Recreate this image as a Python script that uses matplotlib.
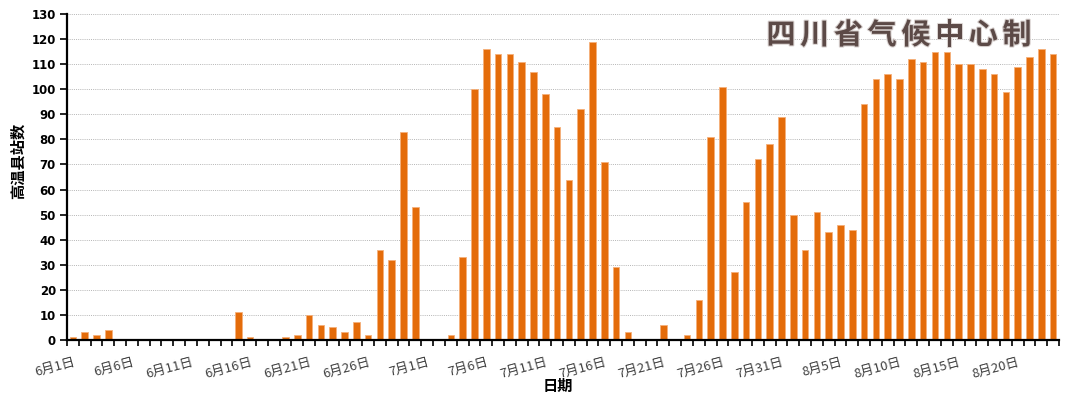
import matplotlib
matplotlib.use("Agg")
import matplotlib.pyplot as plt
import matplotlib.patheffects as pe
import numpy as np

plt.rcParams['font.family'] = ['Noto Sans CJK SC', 'DejaVu Sans']

june = [1, 3, 2, 4, 0, 0, 0, 0, 0, 0, 0, 0, 0, 0, 11, 1, 0, 0, 1, 2,
        10, 6, 5, 3, 7, 2, 36, 32, 83, 53]
july = [0, 0, 2, 33, 100, 116, 114, 114, 111, 107, 98, 85, 64, 92, 119, 71,
        29, 3, 0, 0, 6, 0, 2, 16, 81, 101, 27, 55, 72, 78, 89]
august = [50, 36, 51, 43, 46, 44, 94, 104, 106, 104, 112, 111, 115, 115,
          110, 110, 108, 106, 99, 109, 113, 116, 114]

values = june + july + august
dates = ([f"6月{d}日" for d in range(1, 31)] +
         [f"7月{d}日" for d in range(1, 32)] +
         [f"8月{d}日" for d in range(1, 24)])

ylabel = "高温县站数"
xlabel = "日期"
watermark = "四川省气候中心制"

fig = plt.figure(figsize=(10.8, 4.07), dpi=100)
ax = fig.add_axes([67 / 1080, 67 / 407, (1059 - 67) / 1080, (340 - 14) / 407])

x = np.arange(len(values))
ax.bar(x, values, width=0.56, color='#E46C0A', edgecolor='#F5B07A',
       linewidth=0.6, zorder=3)

ax.set_xlim(-0.5, len(values) - 0.5)
ax.set_ylim(0, 130)
ax.set_yticks(np.arange(0, 131, 10))
ax.yaxis.grid(True, color='#B5B5B5', linestyle=(0, (1, 1.2)), linewidth=0.7, zorder=0)
ax.set_axisbelow(True)

label_idx = list(range(0, len(values), 5))
ax.set_xticks(label_idx)
ax.set_xticklabels([dates[i] for i in label_idx], rotation=15, ha='right',
                   rotation_mode='anchor', fontsize=9.5, color='#404040')
ax.set_xticks(np.arange(-0.5, len(values), 1), minor=True)
ax.tick_params(axis='x', which='major', length=0, pad=11)
ax.tick_params(axis='x', which='minor', length=4, width=1.2, direction='out', color='black')
ax.tick_params(axis='y', length=5, width=1.2, direction='out', color='black', pad=3)
for lab in ax.get_yticklabels():
    lab.set_fontfamily('DejaVu Sans')
    lab.set_fontweight('bold')
    lab.set_fontsize(8.5)
    lab.set_color('black')

for side in ['top', 'right']:
    ax.spines[side].set_visible(False)
for side in ['left', 'bottom']:
    ax.spines[side].set_linewidth(1.6)
    ax.spines[side].set_color('black')
    ax.spines[side].set_zorder(4)

fig.text(18 / 1080, 1 - 161 / 407, ylabel, rotation=90, ha='center', va='center',
         fontsize=11, fontweight='bold', color='black')
fig.text(558 / 1080, 1 - 386 / 407, xlabel, ha='center', va='center',
         fontsize=11, fontweight='bold', color='black')

x0 = 781
step = 33.7
for k, ch in enumerate(watermark):
    fig.text((x0 + k * step) / 1080, 1 - 35 / 407, ch, ha='center', va='center',
             fontsize=21, fontweight='bold', color='#5C4A47',
             path_effects=[pe.withStroke(linewidth=1.5, foreground='#D9D2D0')])

fig.savefig("out.png", dpi=100)
